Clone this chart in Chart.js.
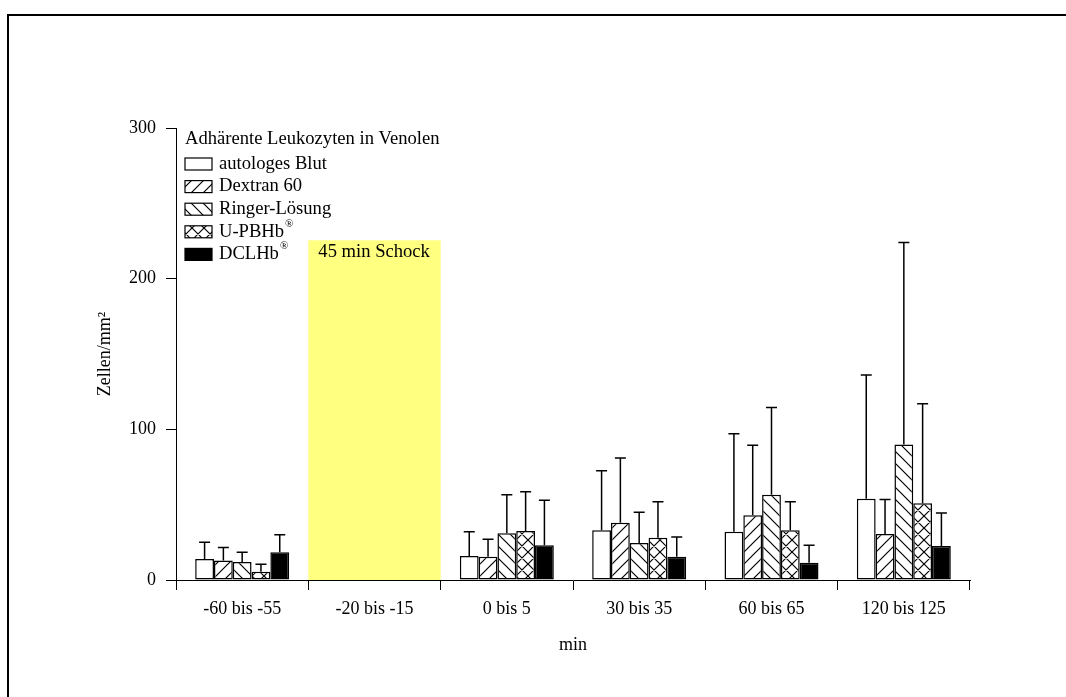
<!DOCTYPE html>
<html>
<head>
<meta charset="utf-8">
<script src="https://cdn.jsdelivr.net/npm/chart.js@4.4.1/dist/chart.umd.min.js"></script>
<style>
  html, body { margin: 0; padding: 0; overflow: hidden; background: #fff; }
  #frame { position: absolute; left: 7px; top: 14px; width: 1059px; height: 683px; border-left: 2px solid #000; border-top: 2px solid #000; box-sizing: border-box; }
  #chart { position: absolute; left: 0; top: 0; }
</style>
</head>
<body>
<div id="frame"></div>
<canvas id="chart" width="1066" height="697"></canvas>
<script>
// Kategorien und Werte (Mittelwert + SD)
const categories = ['-60 bis -55', '-20 bis -15', '0 bis 5', '30 bis 35', '60 bis 65', '120 bis 125'];
const seriesNames = ['autologes Blut', 'Dextran 60', 'Ringer-Lösung', 'U-PBHb', 'DCLHb'];
const seriesMarks = ['', '', '', '®', '®'];
const legendTitle = 'Adhärente Leukozyten in Venolen';

const blutMean    = [14,   null, 16,   33,   32,   54];
const blutSd      = [11,   null, 16,   39.5, 65,   82];
const dextranMean = [13,   null, 15.5, 38,   43,   30.5];
const dextranSd   = [8.5,  null, 11.5, 43,   46.5, 23];
const ringerMean  = [12,   null, 31,   24.5, 56.5, 90];
const ringerSd    = [6.5,  null, 25.5, 20.5, 58,   134];
const upbhbMean   = [5.5,  null, 32.5, 28,   33,   51];
const upbhbSd     = [5,    null, 26,   24,   19,   66];
const dclhbMean   = [18.5, null, 23,   15.5, 11.5, 22.5];
const dclhbSd     = [11.5, null, 30,   13,   11.5, 22];

// gelbes Feld: Schockphase
const shockLabel = '45 min Schock';
const shockCategory = '-20 bis -15';
const shockTop = 225.5;

const yTicks = [0, 100, 200, 300];

const serif = "'Liberation Serif', 'Times New Roman', serif";

function hatch(kind) {
  const s = 12;
  const c = document.createElement('canvas');
  c.width = c.height = s;
  const g = c.getContext('2d');
  g.fillStyle = '#fff';
  g.fillRect(0, 0, s, s);
  g.strokeStyle = '#000';
  g.lineWidth = 1.2;
  g.beginPath();
  if (kind === '/' || kind === 'x') {
    g.moveTo(-1, s + 1); g.lineTo(s + 1, -1);
    g.moveTo(-1, 1); g.lineTo(1, -1);
    g.moveTo(s - 1, s + 1); g.lineTo(s + 1, s - 1);
  }
  if (kind === '\\' || kind === 'x') {
    g.moveTo(-1, -1); g.lineTo(s + 1, s + 1);
    g.moveTo(s - 1, -1); g.lineTo(s + 1, 1);
    g.moveTo(-1, s - 1); g.lineTo(1, s + 1);
  }
  g.stroke();
  return g.createPattern(c, 'repeat');
}

const fills = ['#ffffff', hatch('/'), hatch('\\'), hatch('x'), '#000000'];
const means = [blutMean, dextranMean, ringerMean, upbhbMean, dclhbMean];
const sds = [blutSd, dextranSd, ringerSd, upbhbSd, dclhbSd];

Chart.defaults.font.family = serif;
Chart.defaults.font.size = 18;
Chart.defaults.color = '#000';

const shockBand = {
  id: 'shockBand',
  beforeDatasetsDraw(chart) {
    const ctx = chart.ctx, x = chart.scales.x, y = chart.scales.y;
    const i = categories.indexOf(shockCategory);
    const half = (x.getPixelForValue(1) - x.getPixelForValue(0)) / 2;
    const cx = x.getPixelForValue(i);
    const top = y.getPixelForValue(shockTop);
    ctx.save();
    ctx.fillStyle = '#ffff80';
    ctx.fillRect(cx - half, top, half * 2, y.getPixelForValue(0) - top);
    ctx.font = '18.6px ' + serif;
    ctx.fillStyle = '#000';
    ctx.textBaseline = 'middle';
    ctx.fillText(shockLabel, cx - half + 10, top + 12);
    ctx.restore();
  }
};

const errorBars = {
  id: 'errorBars',
  afterDatasetsDraw(chart) {
    const ctx = chart.ctx, y = chart.scales.y;
    ctx.save();
    ctx.strokeStyle = '#000';
    ctx.lineWidth = 1.5;
    sds.forEach((sd, i) => {
      chart.getDatasetMeta(i).data.forEach((bar, j) => {
        if (means[i][j] == null || sd[j] == null) return;
        const top = y.getPixelForValue(means[i][j] + sd[j]);
        ctx.beginPath();
        ctx.moveTo(bar.x, bar.y);
        ctx.lineTo(bar.x, top);
        ctx.moveTo(bar.x - 5.5, top);
        ctx.lineTo(bar.x + 5.5, top);
        ctx.stroke();
      });
    });
    ctx.restore();
  }
};

const legendBox = {
  id: 'legendBox',
  afterDraw(chart) {
    const ctx = chart.ctx;
    const x0 = chart.chartArea.left + 9, y0 = chart.chartArea.top + 11;
    ctx.save();
    ctx.font = '18.6px ' + serif;
    ctx.fillStyle = '#000';
    ctx.textAlign = 'left';
    ctx.textBaseline = 'middle';
    ctx.fillText(legendTitle, x0, y0);
    seriesNames.forEach((name, i) => {
      const cy = y0 + 25 + i * 22.6;
      ctx.fillStyle = fills[i];
      ctx.fillRect(x0, cy - 6, 27, 12);
      ctx.strokeStyle = '#000';
      ctx.lineWidth = 1.2;
      ctx.strokeRect(x0, cy - 6, 27, 12);
      ctx.fillStyle = '#000';
      ctx.fillText(name, x0 + 34, cy);
      if (seriesMarks[i]) {
        const w = ctx.measureText(name).width;
        ctx.font = '11px ' + serif;
        ctx.fillText(seriesMarks[i], x0 + 35 + w, cy - 8);
        ctx.font = '18.6px ' + serif;
      }
    });
    ctx.restore();
  }
};

const datasets = seriesNames.map((name, i) => ({
  label: name,
  data: means[i],
  backgroundColor: fills[i],
  borderColor: '#000',
  borderWidth: 1.5,
  borderSkipped: false,
  barPercentage: 1,
  categoryPercentage: 0.71
}));

new Chart(document.getElementById('chart'), {
  type: 'bar',
  data: { labels: categories, datasets: datasets },
  options: {
    responsive: false,
    animation: false,
    layout: { padding: { left: 0, right: 96, top: 128, bottom: 0 } },
    plugins: { legend: { display: false }, tooltip: { enabled: false } },
    scales: {
      x: {
        offset: true,
        grid: { offset: true, drawOnChartArea: false, tickLength: 10, color: '#000', lineWidth: 1 },
        border: { color: '#000', width: 1 },
        ticks: { padding: 8, font: { size: 18 } },
        title: { display: true, text: 'min', font: { size: 18 }, padding: { top: 0, bottom: 41 } },
        afterFit(scale) { scale.height = 117; }
      },
      y: {
        min: 0,
        max: 300,
        afterBuildTicks(scale) { scale.ticks = yTicks.map(v => ({ value: v })); },
        grid: { drawOnChartArea: false, tickLength: 10, color: '#000', lineWidth: 1 },
        border: { color: '#000', width: 1 },
        ticks: { padding: 10, font: { size: 18 } },
        title: { display: true, text: 'Zellen/mm²', font: { size: 18 }, padding: { top: 94, bottom: 0 } },
        afterFit(scale) { scale.width = 176; }
      }
    }
  },
  plugins: [shockBand, errorBars, legendBox]
});
</script>
</body>
</html>
